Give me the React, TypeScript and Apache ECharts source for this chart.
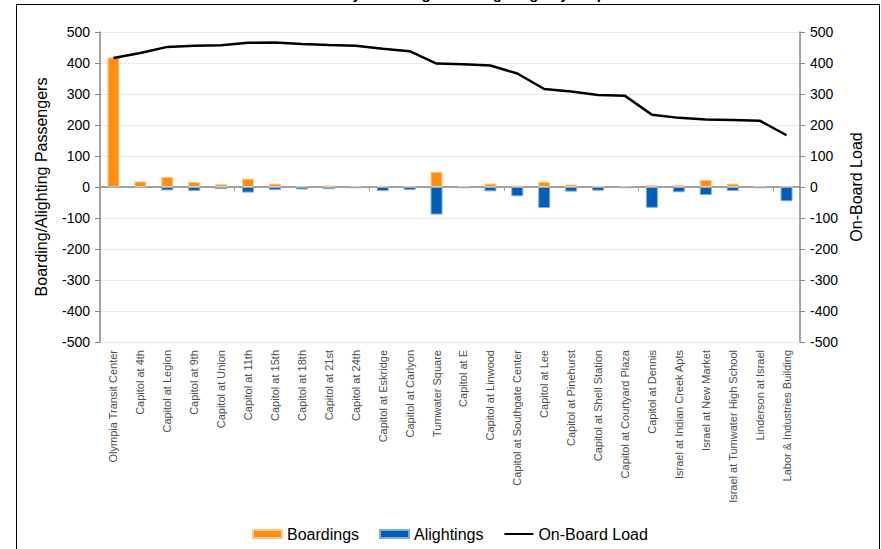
import React, { useEffect, useRef } from 'react';
import * as echarts from 'echarts';

const stops = [
  'Olympia Transit Center',
  'Capitol at 4th',
  'Capitol at Legion',
  'Capitol at 9th',
  'Capitol at Union',
  'Capitol at 11th',
  'Capitol at 15th',
  'Capitol at 18th',
  'Capitol at 21st',
  'Capitol at 24th',
  'Capitol at Eskridge',
  'Capitol at Carlyon',
  'Tumwater Square',
  'Capitol at E',
  'Capitol at Linwood',
  'Capitol at Southgate Center',
  'Capitol at Lee',
  'Capitol at Pinehurst',
  'Capitol at Shell Station',
  'Capitol at Courtyard Plaza',
  'Capitol at Dennis',
  'Israel at Indian Creek Apts',
  'Israel at New Market',
  'Israel at Tumwater High School',
  'Linderson at Israel',
  'Labor & Industries Building',
];

const boardings = [418, 18, 33, 16, 9, 27, 11, 3, 5, 4, 4, 2, 49, 2, 11, 5, 17, 8, 3, 1, 7, 7, 23, 11, 1, 0];
const alightings = [-2, -3, -11, -13, -7, -18, -10, -8, -7, -4, -13, -10, -89, -4, -14, -30, -68, -15, -12, -4, -67, -17, -26, -13, -4, -46];
const onBoardLoad = [416, 432, 452, 456, 457, 465, 466, 461, 458, 456, 446, 438, 398, 396, 392, 366, 316, 308, 297, 294, 233, 223, 218, 216, 214, 167];

const titleText = 'Weekday Boardings and Alightings by Stop';
const seriesNames = ['Boardings', 'Alightings', 'On-Board Load'];
const leftAxisName = 'Boarding/Alighting Passengers';
const rightAxisName = 'On-Board Load';

const FONT = '"Liberation Sans", Arial, sans-serif';

export default function App() {
  const ref = useRef<HTMLDivElement>(null);

  useEffect(() => {
    if (!ref.current) return;
    const chart = echarts.init(ref.current, null, { renderer: 'svg' });
    const yAxisCommon = {
      type: 'value',
      min: -500,
      max: 500,
      interval: 100,
      axisLine: { show: true, lineStyle: { color: '#868686', width: 1.5 } },
      axisTick: { show: true, length: 5, lineStyle: { color: '#868686', width: 1 } },
      axisLabel: { fontSize: 14, color: '#000', margin: 10, fontFamily: FONT },
      nameLocation: 'middle',
      nameRotate: 90,
      nameTextStyle: { fontSize: 16, color: '#000', fontFamily: FONT },
    };
    chart.setOption({
      animation: false,
      backgroundColor: '#fff',
      textStyle: { fontFamily: FONT },
      grid: { left: 100, right: 81, top: 32, bottom: 207, containLabel: false },
      graphic: [
        {
          type: 'rect',
          shape: { x: 16.5, y: 4.5, width: 863, height: 600 },
          style: { fill: 'none', stroke: '#000', lineWidth: 1 },
          silent: true,
        },
        {
          type: 'text',
          x: 451,
          y: -14,
          style: {
            text: titleText,
            font: `bold 15px ${FONT}`,
            fill: '#000',
            textAlign: 'center',
            textVerticalAlign: 'top',
          },
          silent: true,
        },
      ],
      legend: {
        top: 521,
        left: 247,
        itemWidth: 29,
        itemHeight: 8,
        itemGap: 20,
        textStyle: { fontSize: 16, color: '#000', fontFamily: FONT },
        data: [
          { name: seriesNames[0], icon: 'rect' },
          { name: seriesNames[1], icon: 'rect' },
          {
            name: seriesNames[2],
            itemStyle: { color: 'rgba(0,0,0,0)', borderColor: 'rgba(0,0,0,0)', borderWidth: 0, opacity: 0 },
          },
        ],
      },
      xAxis: [
        {
          type: 'category',
          data: stops,
          position: 'bottom',
          axisLine: { show: false, onZero: false },
          axisTick: { show: false },
          axisLabel: {
            interval: 0,
            rotate: 90,
            fontSize: 11,
            color: '#4d4d4d',
            margin: 8,
            fontFamily: FONT,
          },
          splitLine: { show: false },
        },
        {
          type: 'category',
          data: stops,
          position: 'bottom',
          axisLine: { show: true, onZero: true, onZeroAxisIndex: 0, lineStyle: { color: '#868686', width: 1.5 } },
          axisTick: { show: true, interval: 4, length: 4, lineStyle: { color: '#9a9a9a' } },
          axisLabel: { show: false },
          splitLine: { show: false },
        },
      ],
      yAxis: [
        {
          ...yAxisCommon,
          position: 'left',
          name: leftAxisName,
          nameGap: 51,
          splitLine: { show: true, lineStyle: { color: '#d4d4d4', type: 'dotted', width: 1 } },
        },
        {
          ...yAxisCommon,
          position: 'right',
          name: rightAxisName,
          nameGap: 48,
          splitLine: { show: false },
        },
      ],
      series: [
        {
          name: seriesNames[0],
          type: 'bar',
          xAxisIndex: 0,
          yAxisIndex: 0,
          data: boardings,
          barWidth: 12,
          barGap: '-100%',
          itemStyle: { color: '#FE8F12', borderColor: '#FFC98A', borderWidth: 1 },
        },
        {
          name: seriesNames[1],
          type: 'bar',
          xAxisIndex: 0,
          yAxisIndex: 0,
          data: alightings,
          barWidth: 12,
          barGap: '-100%',
          itemStyle: { color: '#005EB8', borderColor: '#7FAEDB', borderWidth: 1 },
        },
        {
          name: seriesNames[2],
          type: 'line',
          xAxisIndex: 0,
          yAxisIndex: 1,
          data: onBoardLoad,
          symbol: 'none',
          showSymbol: false,
          lineStyle: { color: '#000', width: 2.5 },
          itemStyle: { color: '#000' },
          z: 5,
        },
      ],
    });
    return () => chart.dispose();
  }, []);

  return (
    <div
      ref={ref}
      style={{ position: 'fixed', left: 0, top: 0, width: 881, height: 549, background: '#fff' }}
    />
  );
}
